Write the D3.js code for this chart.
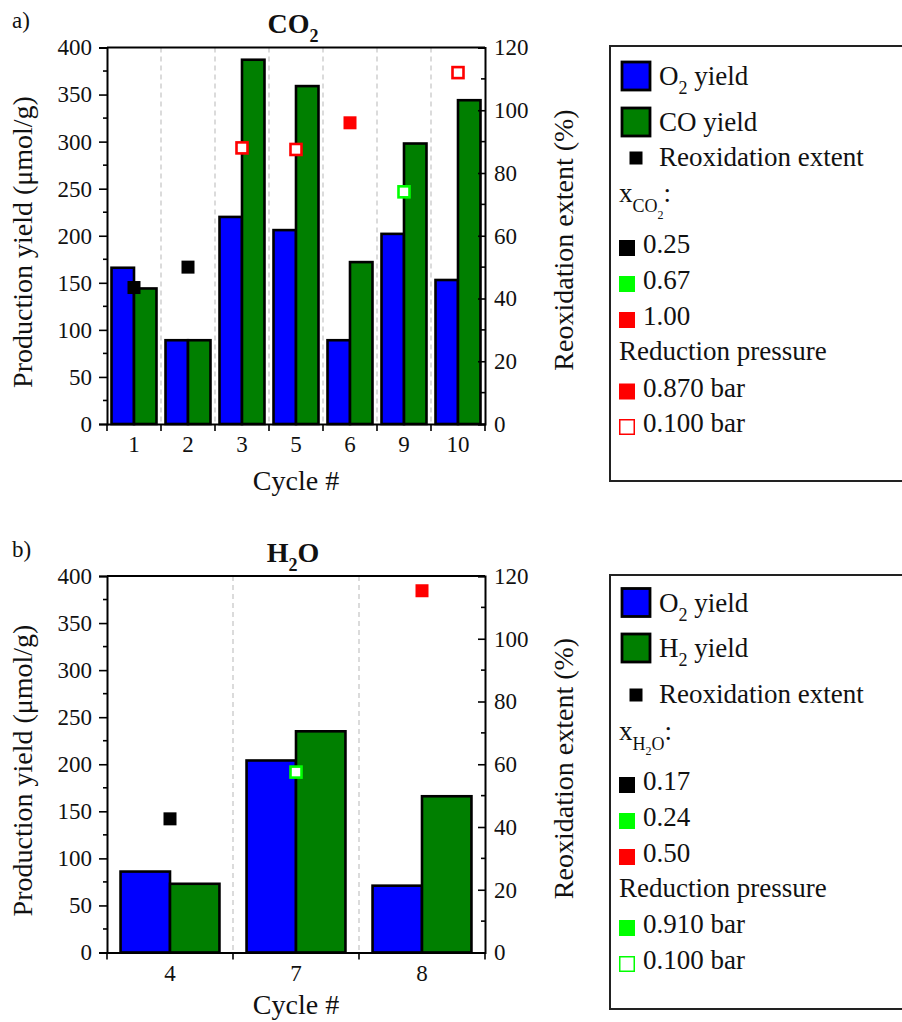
<!DOCTYPE html>
<html><head><meta charset="utf-8">
<script src="https://cdn.jsdelivr.net/npm/d3@7"></script>
<style>
body{margin:0;background:#fff}
svg{display:block}
text{font-family:"Liberation Serif","Times New Roman",serif;fill:#111}
</style>
</head><body><svg id="c" width="902" height="1022"></svg>
<script>
// ---------- DATA ----------
const cyclesCO2 = ["1","2","3","5","6","9","10"];
const o2YieldCO2 = [166, 89, 220, 206, 89, 202, 153];
const coYield = [144, 89, 387, 359, 172, 298, 344];
const reoxCO2 = [43.5, 50, 88, 87.5, 96, 74, 112];
const xCO2 = [0.25, 0.25, 1.00, 1.00, 1.00, 0.67, 1.00];
const pressureCO2 = [0.870, 0.870, 0.100, 0.100, 0.870, 0.100, 0.100];

const cyclesH2O = ["4","7","8"];
const o2YieldH2O = [86, 204, 71];
const h2Yield = [73, 235, 166];
const reoxH2O = [42.6, 57.5, 115.3];
const xH2O = [0.17, 0.24, 0.50];
const pressureH2O = [0.910, 0.100, 0.910];

const yieldTicks = [0,50,100,150,200,250,300,350,400];
const yieldMinor = [25,75,125,175,225,275,325,375];
const reoxTicks = [0,20,40,60,80,100,120];
const reoxMinor = [10,30,50,70,90,110];

const fracLevelsCO2 = [0.25, 0.67, 1.00];
const fracLevelsH2O = [0.17, 0.24, 0.50];
const fracColors = ["#000000", "#00ff00", "#ff0000"];

// ---------- DRAW ----------
const svg = d3.select("#c");
const L = 107, R = 485;
const BLUE = "#0000ff", GREEN = "#007f00";
const SERIF = '"Liberation Serif","Times New Roman",serif';

function drawPanel(p) {
  const off = p.off;
  const top = 47.5 + off, bot = 424 + off;
  const g = svg.append("g");
  const x = d3.scaleBand().domain(p.cats).range([L, R]).paddingInner(p.pad).paddingOuter(p.pad/2);
  const y = d3.scaleLinear().domain([0, 400]).range([bot, top]);
  const y2 = d3.scaleLinear().domain([0, 120]).range([bot, top]);
  const color = d3.scaleOrdinal().domain(p.levels).range(fracColors);
  const half = x.bandwidth()/2;
  const bounds = p.cats.map(c => x(c) - x.step()*x.paddingInner()/2);
  bounds.push(R);

  // dashed separators
  g.selectAll("line.grid").data(bounds.slice(1, -1)).join("line")
    .attr("x1", d => d).attr("x2", d => d).attr("y1", top).attr("y2", bot)
    .attr("stroke", "#c8c8c8").attr("stroke-width", 1.3).attr("stroke-dasharray", "5,4");

  // bars
  g.selectAll("rect.b1").data(p.cats).join("rect")
    .attr("x", c => x(c)).attr("width", half)
    .attr("y", (c,i) => y(p.a[i])).attr("height", (c,i) => bot - y(p.a[i]))
    .attr("fill", BLUE).attr("stroke", "#000").attr("stroke-width", 2.6);
  g.selectAll("rect.b2").data(p.cats).join("rect")
    .attr("x", c => x(c) + half).attr("width", half)
    .attr("y", (c,i) => y(p.b[i])).attr("height", (c,i) => bot - y(p.b[i]))
    .attr("fill", GREEN).attr("stroke", "#000").attr("stroke-width", 2.6);

  // markers
  p.cats.forEach((c, i) => {
    const cx = x(c) + half, cy = y2(p.reox[i]);
    const col = color(p.frac[i]);
    const open = p.press[i] === 0.100;
    if (open) {
      g.append("rect").attr("x", cx-5.5).attr("y", cy-5.5).attr("width", 11).attr("height", 11)
        .attr("fill", "#fff").attr("stroke", col).attr("stroke-width", 2.6);
    } else {
      g.append("rect").attr("x", cx-6.5).attr("y", cy-6.5).attr("width", 13).attr("height", 13)
        .attr("fill", col);
    }
  });

  // left axis
  const ax = g.append("g").attr("transform", `translate(${L},0)`)
    .call(d3.axisLeft(y).tickValues(yieldTicks).tickSize(8).tickPadding(7));
  ax.selectAll("text").attr("font-size", 23).style("font-family", SERIF).attr("fill", "#111");
  ax.selectAll("line").attr("stroke-width", 1.6);
  ax.select(".domain").attr("stroke-width", 2);
  g.selectAll("line.ymin").data(yieldMinor).join("line")
    .attr("x1", L-4).attr("x2", L).attr("y1", d => y(d)).attr("y2", d => y(d))
    .attr("stroke", "#000").attr("stroke-width", 1.6);

  // right axis
  const ar = g.append("g").attr("transform", `translate(${R},0)`)
    .call(d3.axisRight(y2).tickValues(reoxTicks).tickSize(-7).tickPadding(9));
  ar.selectAll("text").attr("font-size", 23).style("font-family", SERIF).attr("fill", "#111");
  ar.selectAll("line").attr("stroke-width", 1.6);
  ar.select(".domain").attr("stroke-width", 2);
  g.selectAll("line.rmin").data(reoxMinor).join("line")
    .attr("x1", R-4).attr("x2", R).attr("y1", d => y2(d)).attr("y2", d => y2(d))
    .attr("stroke", "#000").attr("stroke-width", 1.6);

  // bottom axis: labels at centres, ticks at boundaries
  const ab = g.append("g").attr("transform", `translate(0,${bot})`)
    .call(d3.axisBottom(x).tickSize(0).tickPadding(12));
  ab.selectAll("text").attr("font-size", 23).style("font-family", SERIF).attr("fill", "#111");
  ab.select(".domain").attr("stroke-width", 2);
  g.selectAll("line.xt").data(bounds).join("line")
    .attr("x1", d => d).attr("x2", d => d).attr("y1", bot).attr("y2", bot + 7)
    .attr("stroke", "#000").attr("stroke-width", 1.6);

  // top frame line
  g.append("line").attr("x1", L).attr("x2", R).attr("y1", top).attr("y2", top)
    .attr("stroke", "#000").attr("stroke-width", 2);

  // axis titles
  g.append("text").attr("transform", `translate(32,${242 + off}) rotate(-90)`)
    .attr("text-anchor", "middle").attr("font-size", 28).text("Production yield (\u03bcmol/g)");
  g.append("text").attr("transform", `translate(573,${240 + off}) rotate(-90)`)
    .attr("text-anchor", "middle").attr("font-size", 28).text("Reoxidation extent (%)");
  g.append("text").attr("x", 296).attr("y", p.cycleY).attr("text-anchor", "middle")
    .attr("font-size", 28).text("Cycle #");

  // panel letter
  g.append("text").attr("x", 12).attr("y", 28 + off).attr("font-size", 23).text(p.letter);

  // title
  const t = g.append("text").attr("x", 293).attr("y", 33 + off).attr("text-anchor", "middle")
    .attr("font-size", 28).attr("font-weight", "bold");
  p.title.forEach(s => t.append("tspan").attr("font-size", s[1]).attr("dy", s[2]).text(s[0]));
}

function drawLegend(p) {
  const g = svg.append("g");
  g.append("rect").attr("x", 610).attr("y", p.box[0]).attr("width", 320).attr("height", p.box[1] - p.box[0])
    .attr("fill", "#fff").attr("stroke", "#222").attr("stroke-width", 2);
  const rich = (xx, yy, parts) => {
    const t = g.append("text").attr("x", xx).attr("y", yy).attr("font-size", 27);
    parts.forEach(s => t.append("tspan").attr("font-size", s[1]).attr("dy", s[2]).text(s[0]));
  };
  // bar swatches
  g.append("rect").attr("x", 622).attr("y", p.rows[0] - 14).attr("width", 28).attr("height", 28)
    .attr("fill", BLUE).attr("stroke", "#000").attr("stroke-width", 2.8);
  rich(659, p.rows[0] + 9, [["O",27,0],["2",18,9],[" yield",27,-9]]);
  g.append("rect").attr("x", 622).attr("y", p.rows[1] - 14).attr("width", 28).attr("height", 28)
    .attr("fill", GREEN).attr("stroke", "#000").attr("stroke-width", 2.8);
  rich(659, p.rows[1] + 9, p.second);
  g.append("rect").attr("x", 629.5).attr("y", p.rows[2] - 6.5).attr("width", 13).attr("height", 13).attr("fill", "#000");
  rich(659, p.rows[2] + 8, [["Reoxidation extent",27,0]]);
  rich(619, p.rows[3], p.xlabel);
  p.levels.forEach((lv, i) => {
    const yy = p.rows[4 + i];
    g.append("rect").attr("x", 619).attr("y", yy - 13).attr("width", 16).attr("height", 16).attr("fill", fracColors[i]);
    rich(643, yy, [[d3.format(".2f")(lv),27,0]]);
  });
  rich(619, p.rows[7], [["Reduction pressure",27,0]]);
  g.append("rect").attr("x", 619).attr("y", p.rows[8] - 13).attr("width", 16).attr("height", 16).attr("fill", p.pcol);
  rich(643, p.rows[8], [[d3.format(".3f")(p.pvals[0]) + " bar",27,0]]);
  g.append("rect").attr("x", 619.75).attr("y", p.rows[9] - 12.25).attr("width", 14.5).attr("height", 14.5)
    .attr("fill", "#fff").attr("stroke", p.pcol).attr("stroke-width", 1.5);
  rich(643, p.rows[9], [[d3.format(".3f")(p.pvals[1]) + " bar",27,0]]);
}

drawPanel({off: 0, cats: cyclesCO2, a: o2YieldCO2, b: coYield, reox: reoxCO2, frac: xCO2, press: pressureCO2,
  levels: fracLevelsCO2, pad: 0.167, letter: "a)", title: [["CO",28,0],["2",18,9]], cycleY: 490});
drawPanel({off: 528.5, cats: cyclesH2O, a: o2YieldH2O, b: h2Yield, reox: reoxH2O, frac: xH2O, press: pressureH2O,
  levels: fracLevelsH2O, pad: 0.215, letter: "b)", title: [["H",28,0],["2",18,9],["O",28,-9]], cycleY: 1014});

drawLegend({box: [46, 481], rows: [76, 122, 158, 202, 253, 289, 325, 360, 396.5, 432],
  second: [["CO yield",27,0]], xlabel: [["x",27,0],["CO",18,10],["2",12,7],[":",27,-17]],
  levels: fracLevelsCO2, pcol: "#ff0000", pvals: [0.870, 0.100]});
drawLegend({box: [575, 1009], rows: [602.5, 648, 695, 740, 790, 826, 862, 897, 933, 969],
  second: [["H",27,0],["2",18,9],[" yield",27,-9]], xlabel: [["x",27,0],["H",18,10],["2",12,5],["O",18,-5],[":",27,-10]],
  levels: fracLevelsH2O, pcol: "#00ff00", pvals: [0.910, 0.100]});
</script>
</body></html>
